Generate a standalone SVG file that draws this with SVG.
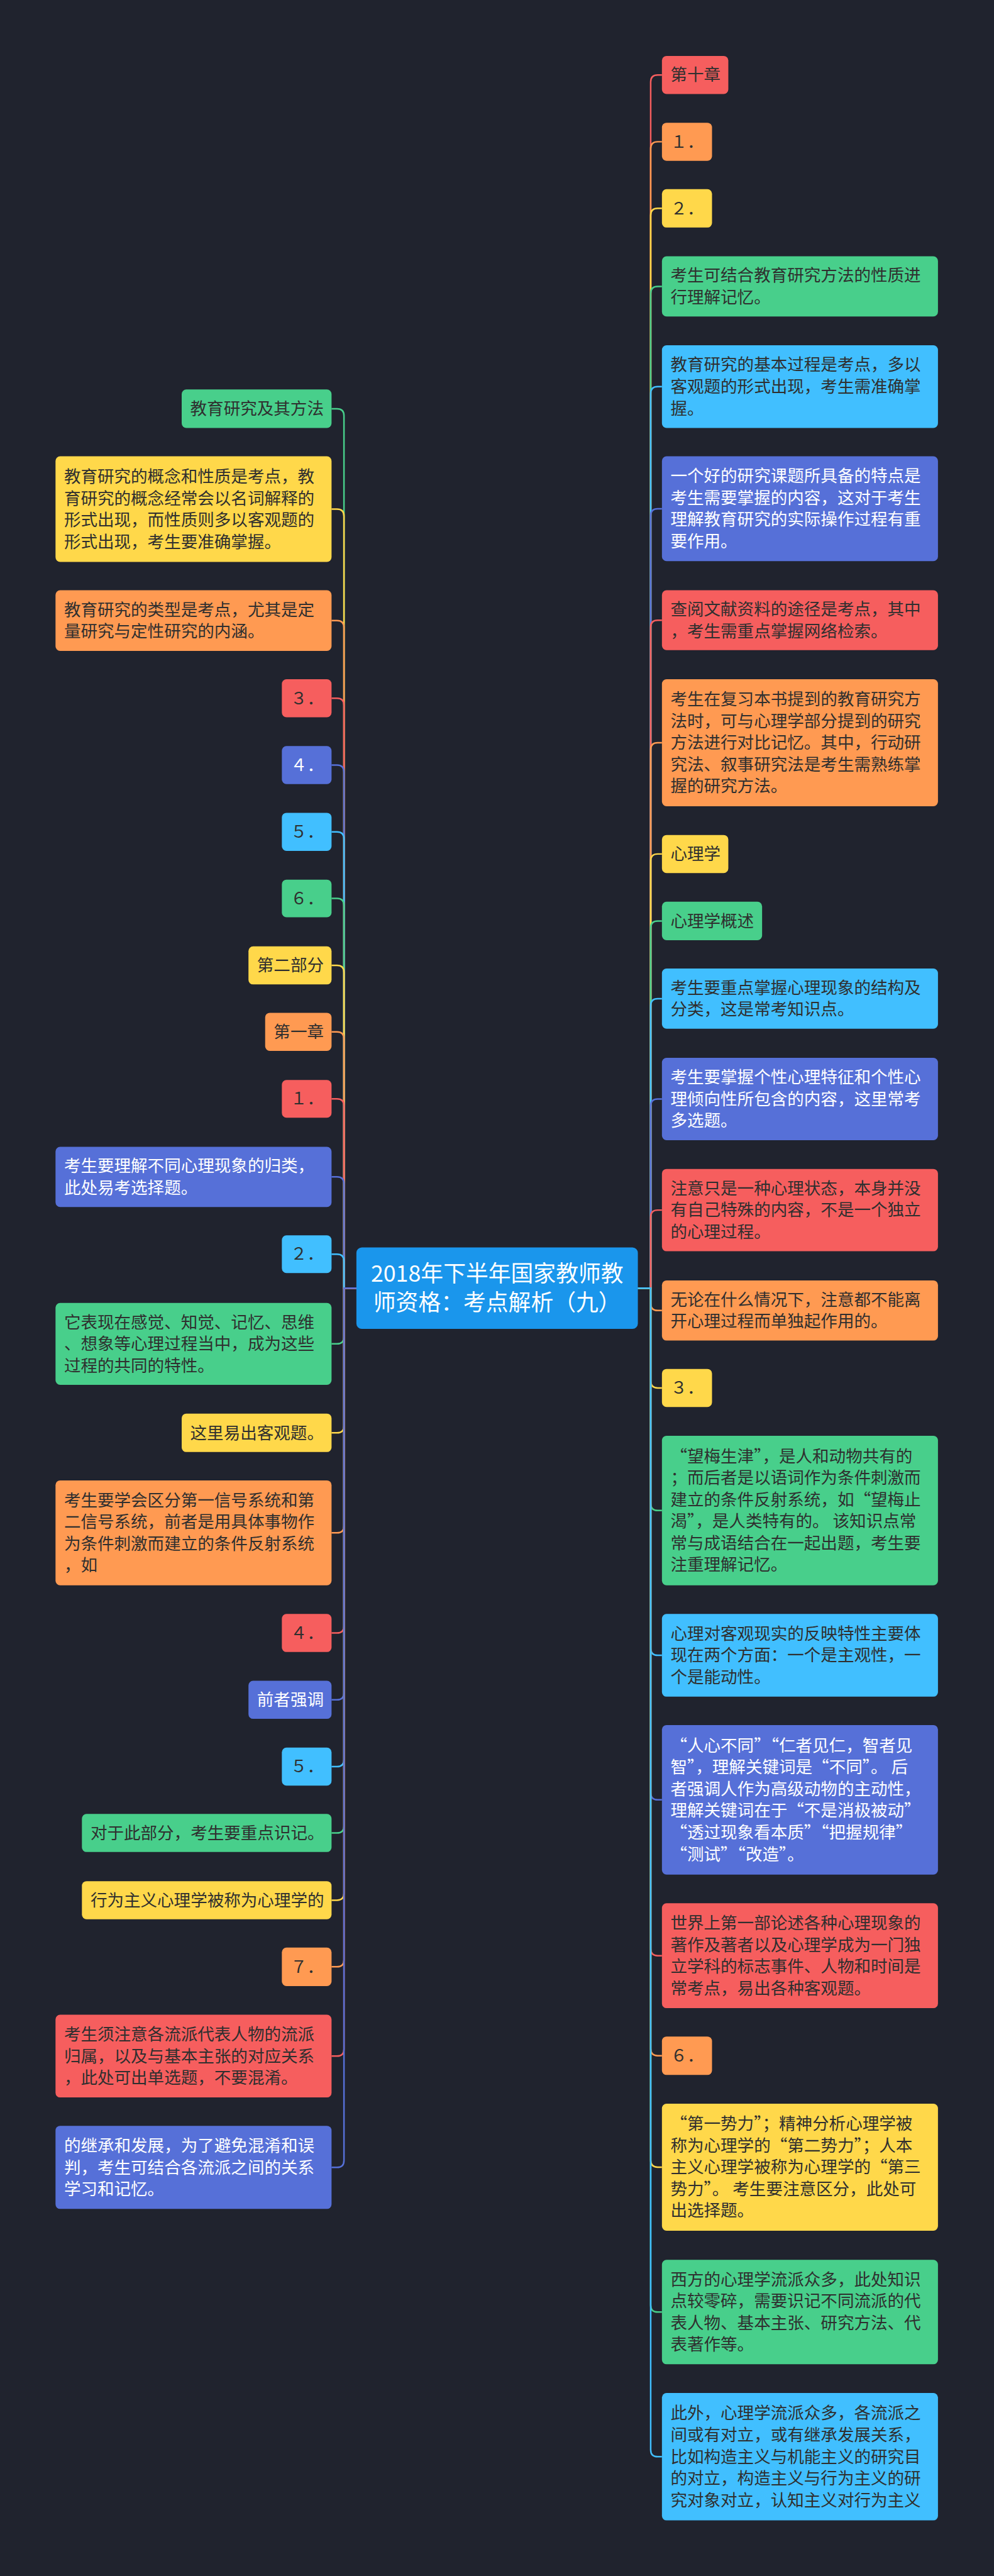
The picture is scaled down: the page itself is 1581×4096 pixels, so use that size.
<svg xmlns="http://www.w3.org/2000/svg" width="1581" height="4096" viewBox="0 0 1581 4096">
<style>
.t{font-family:"Noto Sans CJK SC","Noto Sans",sans-serif;font-size:43px}
.tt{font-family:"Noto Sans CJK SC","Noto Sans",sans-serif;font-size:58px;fill:#fff}
.d{fill:#2f2f2f}.w{fill:#fff}
.G{fill:#48cf8b}.Y{fill:#ffd84a}.O{fill:#ff9a52}.R{fill:#f65e5e}.B{fill:#41bfff}.P{fill:#5670d8}
.c{fill:none;stroke-width:4}
.cG{stroke:#48cf8b}.cY{stroke:#ffd84a}.cO{stroke:#ff9a52}.cR{stroke:#f65e5e}.cB{stroke:#41bfff}.cP{stroke:#5670d8}
</style>
<rect x="0" y="0" width="1581" height="4096" fill="#20232e"/>
<g transform="scale(0.6175)">
<g id="connectors">
<path class="c cG" d="M918 3317H886V1070.5Q886 1052.5 868 1052.5H854"/>
<path class="c cY" d="M918 3317H886V1329Q886 1311 868 1311H854"/>
<path class="c cO" d="M918 3317H886V1616Q886 1598 868 1598H854"/>
<path class="c cR" d="M918 3317H886V1816Q886 1798 868 1798H854"/>
<path class="c cP" d="M918 3317H886V1988Q886 1970 868 1970H854"/>
<path class="c cB" d="M918 3317H886V2160Q886 2142 868 2142H854"/>
<path class="c cG" d="M918 3317H886V2331.5Q886 2313.5 868 2313.5H854"/>
<path class="c cY" d="M918 3317H886V2504Q886 2486 868 2486H854"/>
<path class="c cO" d="M918 3317H886V2675Q886 2657 868 2657H854"/>
<path class="c cR" d="M918 3317H886V2847.5Q886 2829.5 868 2829.5H854"/>
<path class="c cP" d="M918 3317H886V3048.5Q886 3030.5 868 3030.5H854"/>
<path class="c cB" d="M918 3317H886V3247.5Q886 3229.5 868 3229.5H854"/>
<path class="c cG" d="M918 3317H886V3442.5Q886 3460.5 868 3460.5H854"/>
<path class="c cY" d="M918 3317H886V3671.5Q886 3689.5 868 3689.5H854"/>
<path class="c cO" d="M918 3317H886V3929Q886 3947 868 3947H854"/>
<path class="c cR" d="M918 3317H886V4187Q886 4205 868 4205H854"/>
<path class="c cP" d="M918 3317H886V4359Q886 4377 868 4377H854"/>
<path class="c cB" d="M918 3317H886V4531Q886 4549 868 4549H854"/>
<path class="c cG" d="M918 3317H886V4702Q886 4720 868 4720H854"/>
<path class="c cY" d="M918 3317H886V4875Q886 4893 868 4893H854"/>
<path class="c cO" d="M918 3317H886V5046.5Q886 5064.5 868 5064.5H854"/>
<path class="c cR" d="M918 3317H886V5276.5Q886 5294.5 868 5294.5H854"/>
<path class="c cP" d="M918 3317H886V5563Q886 5581 868 5581H854"/>
<path class="c cR" d="M1643 3317H1676V211Q1676 193 1694 193H1705"/>
<path class="c cO" d="M1643 3317H1676V383Q1676 365 1694 365H1705"/>
<path class="c cY" d="M1643 3317H1676V554.5Q1676 536.5 1694 536.5H1705"/>
<path class="c cG" d="M1643 3317H1676V755.5Q1676 737.5 1694 737.5H1705"/>
<path class="c cB" d="M1643 3317H1676V1013.5Q1676 995.5 1694 995.5H1705"/>
<path class="c cP" d="M1643 3317H1676V1328Q1676 1310 1694 1310H1705"/>
<path class="c cR" d="M1643 3317H1676V1615Q1676 1597 1694 1597H1705"/>
<path class="c cO" d="M1643 3317H1676V1930.5Q1676 1912.5 1694 1912.5H1705"/>
<path class="c cY" d="M1643 3317H1676V2217Q1676 2199 1694 2199H1705"/>
<path class="c cG" d="M1643 3317H1676V2389.5Q1676 2371.5 1694 2371.5H1705"/>
<path class="c cB" d="M1643 3317H1676V2589.5Q1676 2571.5 1694 2571.5H1705"/>
<path class="c cP" d="M1643 3317H1676V2848Q1676 2830 1694 2830H1705"/>
<path class="c cR" d="M1643 3317H1676V3134Q1676 3116 1694 3116H1705"/>
<path class="c cO" d="M1643 3317H1676V3356.5Q1676 3374.5 1694 3374.5H1705"/>
<path class="c cY" d="M1643 3317H1676V3556Q1676 3574 1694 3574H1705"/>
<path class="c cG" d="M1643 3317H1676V3871.5Q1676 3889.5 1694 3889.5H1705"/>
<path class="c cB" d="M1643 3317H1676V4244.5Q1676 4262.5 1694 4262.5H1705"/>
<path class="c cP" d="M1643 3317H1676V4616.5Q1676 4634.5 1694 4634.5H1705"/>
<path class="c cR" d="M1643 3317H1676V5018Q1676 5036 1694 5036H1705"/>
<path class="c cO" d="M1643 3317H1676V5275.5Q1676 5293.5 1694 5293.5H1705"/>
<path class="c cY" d="M1643 3317H1676V5562.5Q1676 5580.5 1694 5580.5H1705"/>
<path class="c cG" d="M1643 3317H1676V5935.5Q1676 5953.5 1694 5953.5H1705"/>
<path class="c cB" d="M1643 3317H1676V6308Q1676 6326 1694 6326H1705"/>
</g>
<g id="root"><rect x="918" y="3212" width="725" height="210" rx="14" fill="#1a96ec"/><text class="tt" text-anchor="middle"><tspan x="1280.5" y="3300">2018年下半年国家教师教</tspan><tspan x="1280.5" y="3375">师资格：考点解析（九）</tspan></text></g>
<g id="L1"><rect class="G" x="468" y="1003" width="386" height="99" rx="12"/><text class="t d" x="490" y="1067.5">教育研究及其方法</text></g>
<g id="L2"><rect class="Y" x="143" y="1175" width="711" height="272" rx="12"/><text class="t d"><tspan x="165" y="1242">教育研究的概念和性质是考点，教</tspan><tspan x="165" y="1298">育研究的概念经常会以名词解释的</tspan><tspan x="165" y="1354">形式出现，而性质则多以客观题的</tspan><tspan x="165" y="1410">形式出现，考生要准确掌握。</tspan></text></g>
<g id="L3"><rect class="O" x="143" y="1520" width="711" height="156" rx="12"/><text class="t d"><tspan x="165" y="1585">教育研究的类型是考点，尤其是定</tspan><tspan x="165" y="1641">量研究与定性研究的内涵。</tspan></text></g>
<g id="L4"><rect class="R" x="726" y="1749" width="128" height="98" rx="12"/><text class="t d" x="748" y="1813">３．</text></g>
<g id="L5"><rect class="P" x="726" y="1921" width="128" height="98" rx="12"/><text class="t w" x="748" y="1985">４．</text></g>
<g id="L6"><rect class="B" x="726" y="2093" width="128" height="98" rx="12"/><text class="t d" x="748" y="2157">５．</text></g>
<g id="L7"><rect class="G" x="726" y="2265" width="128" height="97" rx="12"/><text class="t d" x="748" y="2328.5">６．</text></g>
<g id="L8"><rect class="Y" x="640" y="2437" width="214" height="98" rx="12"/><text class="t d" x="662" y="2501">第二部分</text></g>
<g id="L9"><rect class="O" x="683" y="2608" width="171" height="98" rx="12"/><text class="t d" x="705" y="2672">第一章</text></g>
<g id="L10"><rect class="R" x="726" y="2781" width="128" height="97" rx="12"/><text class="t d" x="748" y="2844.5">１．</text></g>
<g id="L11"><rect class="P" x="143" y="2953" width="711" height="155" rx="12"/><text class="t w"><tspan x="165" y="3017.5">考生要理解不同心理现象的归类，</tspan><tspan x="165" y="3073.5">此处易考选择题。</tspan></text></g>
<g id="L12"><rect class="B" x="726" y="3181" width="128" height="97" rx="12"/><text class="t d" x="748" y="3244.5">２．</text></g>
<g id="L13"><rect class="G" x="143" y="3355" width="711" height="211" rx="12"/><text class="t d"><tspan x="165" y="3419.5">它表现在感觉、知觉、记忆、思维</tspan><tspan x="165" y="3475.5">、想象等心理过程当中，成为这些</tspan><tspan x="165" y="3531.5">过程的共同的特性。</tspan></text></g>
<g id="L14"><rect class="Y" x="468" y="3640" width="386" height="99" rx="12"/><text class="t d" x="490" y="3704.5">这里易出客观题。</text></g>
<g id="L15"><rect class="O" x="143" y="3812" width="711" height="270" rx="12"/><text class="t d"><tspan x="165" y="3878">考生要学会区分第一信号系统和第</tspan><tspan x="165" y="3934">二信号系统，前者是用具体事物作</tspan><tspan x="165" y="3990">为条件刺激而建立的条件反射系统</tspan><tspan x="165" y="4046">，如</tspan></text></g>
<g id="L16"><rect class="R" x="726" y="4156" width="128" height="98" rx="12"/><text class="t d" x="748" y="4220">４．</text></g>
<g id="L17"><rect class="P" x="640" y="4328" width="214" height="98" rx="12"/><text class="t w" x="662" y="4392">前者强调</text></g>
<g id="L18"><rect class="B" x="726" y="4500" width="128" height="98" rx="12"/><text class="t d" x="748" y="4564">５．</text></g>
<g id="L19"><rect class="G" x="211" y="4671" width="643" height="98" rx="12"/><text class="t d" x="233" y="4735">对于此部分，考生要重点识记。</text></g>
<g id="L20"><rect class="Y" x="211" y="4844" width="643" height="98" rx="12"/><text class="t d" x="233" y="4908">行为主义心理学被称为心理学的</text></g>
<g id="L21"><rect class="O" x="726" y="5015" width="128" height="99" rx="12"/><text class="t d" x="748" y="5079.5">７．</text></g>
<g id="L22"><rect class="R" x="143" y="5188" width="711" height="213" rx="12"/><text class="t d"><tspan x="165" y="5253.5">考生须注意各流派代表人物的流派</tspan><tspan x="165" y="5309.5">归属，以及与基本主张的对应关系</tspan><tspan x="165" y="5365.5">，此处可出单选题，不要混淆。</tspan></text></g>
<g id="L23"><rect class="P" x="143" y="5474" width="711" height="214" rx="12"/><text class="t w"><tspan x="165" y="5540">的继承和发展，为了避免混淆和误</tspan><tspan x="165" y="5596">判，考生可结合各流派之间的关系</tspan><tspan x="165" y="5652">学习和记忆。</tspan></text></g>
<g id="R1"><rect class="R" x="1705" y="144" width="171" height="98" rx="12"/><text class="t d" x="1727" y="208">第十章</text></g>
<g id="R2"><rect class="O" x="1705" y="316" width="129" height="98" rx="12"/><text class="t d" x="1727" y="380">１．</text></g>
<g id="R3"><rect class="Y" x="1705" y="487" width="129" height="99" rx="12"/><text class="t d" x="1727" y="551.5">２．</text></g>
<g id="R4"><rect class="G" x="1705" y="660" width="711" height="155" rx="12"/><text class="t d"><tspan x="1727" y="724.5">考生可结合教育研究方法的性质进</tspan><tspan x="1727" y="780.5">行理解记忆。</tspan></text></g>
<g id="R5"><rect class="B" x="1705" y="889" width="711" height="213" rx="12"/><text class="t d"><tspan x="1727" y="954.5">教育研究的基本过程是考点，多以</tspan><tspan x="1727" y="1010.5">客观题的形式出现，考生需准确掌</tspan><tspan x="1727" y="1066.5">握。</tspan></text></g>
<g id="R6"><rect class="P" x="1705" y="1175" width="711" height="270" rx="12"/><text class="t w"><tspan x="1727" y="1241">一个好的研究课题所具备的特点是</tspan><tspan x="1727" y="1297">考生需要掌握的内容，这对于考生</tspan><tspan x="1727" y="1353">理解教育研究的实际操作过程有重</tspan><tspan x="1727" y="1409">要作用。</tspan></text></g>
<g id="R7"><rect class="R" x="1705" y="1520" width="711" height="154" rx="12"/><text class="t d"><tspan x="1727" y="1584">查阅文献资料的途径是考点，其中</tspan><tspan x="1727" y="1640">，考生需重点掌握网络检索。</tspan></text></g>
<g id="R8"><rect class="O" x="1705" y="1749" width="711" height="327" rx="12"/><text class="t d"><tspan x="1727" y="1815.5">考生在复习本书提到的教育研究方</tspan><tspan x="1727" y="1871.5">法时，可与心理学部分提到的研究</tspan><tspan x="1727" y="1927.5">方法进行对比记忆。其中，行动研</tspan><tspan x="1727" y="1983.5">究法、叙事研究法是考生需熟练掌</tspan><tspan x="1727" y="2039.5">握的研究方法。</tspan></text></g>
<g id="R9"><rect class="Y" x="1705" y="2150" width="171" height="98" rx="12"/><text class="t d" x="1727" y="2214">心理学</text></g>
<g id="R10"><rect class="G" x="1705" y="2322" width="258" height="99" rx="12"/><text class="t d" x="1727" y="2386.5">心理学概述</text></g>
<g id="R11"><rect class="B" x="1705" y="2494" width="711" height="155" rx="12"/><text class="t d"><tspan x="1727" y="2558.5">考生要重点掌握心理现象的结构及</tspan><tspan x="1727" y="2614.5">分类，这是常考知识点。</tspan></text></g>
<g id="R12"><rect class="P" x="1705" y="2724" width="711" height="212" rx="12"/><text class="t w"><tspan x="1727" y="2789">考生要掌握个性心理特征和个性心</tspan><tspan x="1727" y="2845">理倾向性所包含的内容，这里常考</tspan><tspan x="1727" y="2901">多选题。</tspan></text></g>
<g id="R13"><rect class="R" x="1705" y="3010" width="711" height="212" rx="12"/><text class="t d"><tspan x="1727" y="3075">注意只是一种心理状态，本身并没</tspan><tspan x="1727" y="3131">有自己特殊的内容，不是一个独立</tspan><tspan x="1727" y="3187">的心理过程。</tspan></text></g>
<g id="R14"><rect class="O" x="1705" y="3297" width="711" height="155" rx="12"/><text class="t d"><tspan x="1727" y="3361.5">无论在什么情况下，注意都不能离</tspan><tspan x="1727" y="3417.5">开心理过程而单独起作用的。</tspan></text></g>
<g id="R15"><rect class="Y" x="1705" y="3525" width="129" height="98" rx="12"/><text class="t d" x="1727" y="3589">３．</text></g>
<g id="R16"><rect class="G" x="1705" y="3697" width="711" height="385" rx="12"/><text class="t d"><tspan x="1727" y="3764.5">“望梅生津”，是人和动物共有的</tspan><tspan x="1727" y="3820.5">；而后者是以语词作为条件刺激而</tspan><tspan x="1727" y="3876.5">建立的条件反射系统，如“望梅止</tspan><tspan x="1727" y="3932.5">渴”，是人类特有的。 该知识点常</tspan><tspan x="1727" y="3988.5">常与成语结合在一起出题，考生要</tspan><tspan x="1727" y="4044.5">注重理解记忆。</tspan></text></g>
<g id="R17"><rect class="B" x="1705" y="4156" width="711" height="213" rx="12"/><text class="t d"><tspan x="1727" y="4221.5">心理对客观现实的反映特性主要体</tspan><tspan x="1727" y="4277.5">现在两个方面：一个是主观性，一</tspan><tspan x="1727" y="4333.5">个是能动性。</tspan></text></g>
<g id="R18"><rect class="P" x="1705" y="4442" width="711" height="385" rx="12"/><text class="t w"><tspan x="1727" y="4509.5">“人心不同”“仁者见仁，智者见</tspan><tspan x="1727" y="4565.5">智”，理解关键词是“不同”。 后</tspan><tspan x="1727" y="4621.5">者强调人作为高级动物的主动性，</tspan><tspan x="1727" y="4677.5">理解关键词在于“不是消极被动”</tspan><tspan x="1727" y="4733.5">“透过现象看本质”“把握规律”</tspan><tspan x="1727" y="4789.5">“测试”“改造”。</tspan></text></g>
<g id="R19"><rect class="R" x="1705" y="4901" width="711" height="270" rx="12"/><text class="t d"><tspan x="1727" y="4967">世界上第一部论述各种心理现象的</tspan><tspan x="1727" y="5023">著作及著者以及心理学成为一门独</tspan><tspan x="1727" y="5079">立学科的标志事件、人物和时间是</tspan><tspan x="1727" y="5135">常考点，易出各种客观题。</tspan></text></g>
<g id="R20"><rect class="O" x="1705" y="5244" width="129" height="99" rx="12"/><text class="t d" x="1727" y="5308.5">６．</text></g>
<g id="R21"><rect class="Y" x="1705" y="5417" width="711" height="327" rx="12"/><text class="t d"><tspan x="1727" y="5483.5">“第一势力”；精神分析心理学被</tspan><tspan x="1727" y="5539.5">称为心理学的“第二势力”；人本</tspan><tspan x="1727" y="5595.5">主义心理学被称为心理学的“第三</tspan><tspan x="1727" y="5651.5">势力”。 考生要注意区分，此处可</tspan><tspan x="1727" y="5707.5">出选择题。</tspan></text></g>
<g id="R22"><rect class="G" x="1705" y="5819" width="711" height="269" rx="12"/><text class="t d"><tspan x="1727" y="5884.5">西方的心理学流派众多，此处知识</tspan><tspan x="1727" y="5940.5">点较零碎，需要识记不同流派的代</tspan><tspan x="1727" y="5996.5">表人物、基本主张、研究方法、代</tspan><tspan x="1727" y="6052.5">表著作等。</tspan></text></g>
<g id="R23"><rect class="B" x="1705" y="6162" width="711" height="328" rx="12"/><text class="t d"><tspan x="1727" y="6229">此外，心理学流派众多，各流派之</tspan><tspan x="1727" y="6285">间或有对立，或有继承发展关系，</tspan><tspan x="1727" y="6341">比如构造主义与机能主义的研究目</tspan><tspan x="1727" y="6397">的对立，构造主义与行为主义的研</tspan><tspan x="1727" y="6453">究对象对立，认知主义对行为主义</tspan></text></g>
</g>
</svg>
